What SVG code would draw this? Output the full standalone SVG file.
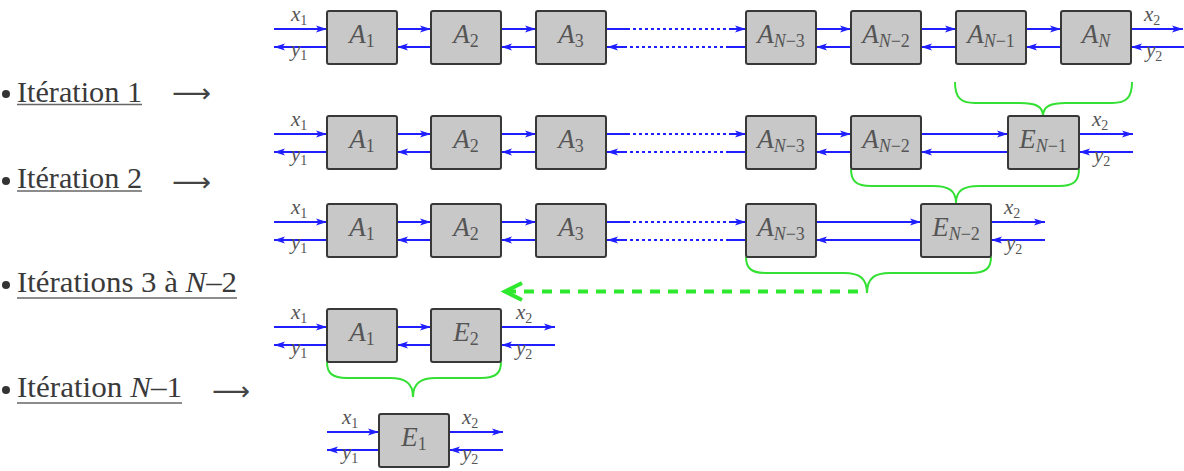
<svg xmlns="http://www.w3.org/2000/svg" width="1184" height="471" viewBox="0 0 1184 471">
<style>
.box{fill:#c8c8c8;stroke:#383838;stroke-width:2}
.bl{font-size:27px;fill:#555;text-anchor:middle}
.lb{font-size:21px;fill:#555}
.w{stroke:#1f1fff;stroke-width:2;fill:none}
.wa{stroke:#1f1fff;stroke-width:2;fill:none;marker-end:url(#ah)}
.dt{stroke:#1f1fff;stroke-width:2;fill:none;stroke-dasharray:3 3}
.br{stroke:#33e033;stroke-width:2;fill:none}
.it{font-size:29px;fill:#3a3a3a}
.ul{stroke:#666;stroke-width:1.5}
.la{font-size:26px;fill:#444}
</style>
<defs>
<marker id="ah" markerUnits="userSpaceOnUse" markerWidth="12" markerHeight="8" refX="11" refY="4" orient="auto">
<path d="M0,0.5 L11,4 L0,7.5 L2.5,4 z" fill="#1f1fff"/>
</marker>
</defs>

<g id="left-text" font-family="Liberation Serif, Times New Roman, DejaVu Serif, serif">
<circle cx="6" cy="94" r="4" fill="#333"/>
<text class="it" x="17" y="102" textLength="125" lengthAdjust="spacingAndGlyphs">Itération 1</text>
<line class="ul" x1="17" y1="104.5" x2="142" y2="104.5"/>
<text class="la" x="172" y="102" textLength="39" lengthAdjust="spacingAndGlyphs" font-family="DejaVu Sans, sans-serif">⟶</text>
<circle cx="6" cy="181" r="4" fill="#333"/>
<text class="it" x="17" y="188" textLength="125" lengthAdjust="spacingAndGlyphs">Itération 2</text>
<line class="ul" x1="17" y1="191" x2="142" y2="191"/>
<text class="la" x="172" y="191" textLength="39" lengthAdjust="spacingAndGlyphs" font-family="DejaVu Sans, sans-serif">⟶</text>
<circle cx="6" cy="285" r="4" fill="#333"/>
<text class="it" x="17" y="292" textLength="220" lengthAdjust="spacingAndGlyphs">Itérations 3 à <tspan font-style="italic">N</tspan>–2</text>
<line class="ul" x1="17" y1="298" x2="237" y2="298"/>
<circle cx="6" cy="390" r="4" fill="#333"/>
<text class="it" x="17" y="397" textLength="165" lengthAdjust="spacingAndGlyphs">Itération <tspan font-style="italic">N</tspan>–1</text>
<line class="ul" x1="17" y1="403" x2="182" y2="403"/>
<text class="la" x="212" y="400" textLength="38" lengthAdjust="spacingAndGlyphs" font-family="DejaVu Sans, sans-serif">⟶</text>
</g>

<g id="connectors">
<line class="wa" x1="274" y1="29" x2="327" y2="29"/><line class="wa" x1="327" y1="47" x2="274" y2="47"/>
<line class="wa" x1="397" y1="29" x2="431" y2="29"/><line class="wa" x1="431" y1="47" x2="397" y2="47"/>
<line class="wa" x1="501" y1="29" x2="536" y2="29"/><line class="wa" x1="536" y1="47" x2="501" y2="47"/>
<line class="w" x1="606" y1="29" x2="627" y2="29"/><line class="dt" x1="627" y1="29" x2="729" y2="29"/><line class="wa" x1="729" y1="29" x2="746" y2="29"/>
<line class="w" x1="746" y1="47" x2="729" y2="47"/><line class="dt" x1="729" y1="47" x2="627" y2="47"/><line class="wa" x1="627" y1="47" x2="607" y2="47"/>
<line class="wa" x1="816" y1="29" x2="851" y2="29"/><line class="wa" x1="851" y1="47" x2="816" y2="47"/>
<line class="wa" x1="921" y1="29" x2="956" y2="29"/><line class="wa" x1="956" y1="47" x2="921" y2="47"/>
<line class="wa" x1="1026" y1="29" x2="1061" y2="29"/><line class="wa" x1="1061" y1="47" x2="1026" y2="47"/>
<line class="wa" x1="1131" y1="29" x2="1183" y2="29"/><line class="wa" x1="1184" y1="47" x2="1131" y2="47"/>
<line class="wa" x1="274" y1="134" x2="327" y2="134"/><line class="wa" x1="327" y1="152" x2="274" y2="152"/>
<line class="wa" x1="397" y1="134" x2="431" y2="134"/><line class="wa" x1="431" y1="152" x2="397" y2="152"/>
<line class="wa" x1="501" y1="134" x2="536" y2="134"/><line class="wa" x1="536" y1="152" x2="501" y2="152"/>
<line class="w" x1="606" y1="134" x2="627" y2="134"/><line class="dt" x1="627" y1="134" x2="729" y2="134"/><line class="wa" x1="729" y1="134" x2="746" y2="134"/>
<line class="w" x1="746" y1="152" x2="729" y2="152"/><line class="dt" x1="729" y1="152" x2="627" y2="152"/><line class="wa" x1="627" y1="152" x2="607" y2="152"/>
<line class="wa" x1="816" y1="134" x2="851" y2="134"/><line class="wa" x1="851" y1="152" x2="816" y2="152"/>
<line class="wa" x1="921" y1="134" x2="1008" y2="134"/><line class="wa" x1="1008" y1="152" x2="921" y2="152"/>
<line class="wa" x1="1079" y1="134" x2="1133" y2="134"/><line class="wa" x1="1133" y1="152" x2="1079" y2="152"/>
<line class="wa" x1="274" y1="222" x2="327" y2="222"/><line class="wa" x1="327" y1="240" x2="274" y2="240"/>
<line class="wa" x1="397" y1="222" x2="431" y2="222"/><line class="wa" x1="431" y1="240" x2="397" y2="240"/>
<line class="wa" x1="501" y1="222" x2="536" y2="222"/><line class="wa" x1="536" y1="240" x2="501" y2="240"/>
<line class="w" x1="606" y1="222" x2="627" y2="222"/><line class="dt" x1="627" y1="222" x2="729" y2="222"/><line class="wa" x1="729" y1="222" x2="746" y2="222"/>
<line class="w" x1="746" y1="240" x2="729" y2="240"/><line class="dt" x1="729" y1="240" x2="627" y2="240"/><line class="wa" x1="627" y1="240" x2="607" y2="240"/>
<line class="wa" x1="816" y1="222" x2="921" y2="222"/><line class="wa" x1="921" y1="240" x2="816" y2="240"/>
<line class="wa" x1="991" y1="222" x2="1045" y2="222"/><line class="wa" x1="1045" y1="240" x2="991" y2="240"/>
<line class="wa" x1="274" y1="327" x2="327" y2="327"/><line class="wa" x1="327" y1="345" x2="274" y2="345"/>
<line class="wa" x1="397" y1="327" x2="431" y2="327"/><line class="wa" x1="431" y1="345" x2="397" y2="345"/>
<line class="wa" x1="501" y1="327" x2="555" y2="327"/><line class="wa" x1="555" y1="345" x2="501" y2="345"/>
<line class="wa" x1="327" y1="432" x2="379" y2="432"/><line class="wa" x1="379" y1="450" x2="327" y2="450"/>
<line class="wa" x1="449" y1="432" x2="503" y2="432"/><line class="wa" x1="503" y1="450" x2="449" y2="450"/>
<path class="br" d="M955,82 C955,97 960,103 975,103 L1020,103 C1035,103 1043,106 1043,116 C1043,106 1051,103 1066,103 L1112,103 C1127,103 1132,97 1132,82"/>
<path class="br" d="M851,169 C851,181 856,186 871,186 L933,186 C948,186 956,190 956,203 C956,190 964,186 979,186 L1059,186 C1074,186 1079,181 1079,169"/>
<path class="br" d="M746,257 C746,268 751,273 766,273 L844,273 C859,273 867,278 867,293 C867,278 875,273 890,273 L971,273 C986,273 991,268 991,257"/>
<path class="br" d="M327,362 C327,373 332,378 347,378 L390,378 C405,378 413,383 413,397 C413,383 421,378 436,378 L481,378 C496,378 501,373 501,362"/>
<line x1="858" y1="291.5" x2="508" y2="291.5" stroke="#2ee82e" stroke-width="4" stroke-dasharray="10 8"/>
<path d="M522,283 L505,291.5 L522,300" stroke="#2ee82e" stroke-width="4" fill="none"/>
</g>

<g id="labels" font-family="Liberation Serif, Times New Roman, DejaVu Serif, serif">
<text class="lb" x="291" y="21"><tspan font-style="italic">x</tspan><tspan font-size="14" dy="4">1</tspan></text>
<text class="lb" x="291" y="56"><tspan font-style="italic">y</tspan><tspan font-size="14" dy="4">1</tspan></text>
<text class="lb" x="1144" y="21"><tspan font-style="italic">x</tspan><tspan font-size="14" dy="4">2</tspan></text>
<text class="lb" x="1146" y="57"><tspan font-style="italic">y</tspan><tspan font-size="14" dy="4">2</tspan></text>
<text class="lb" x="291" y="126"><tspan font-style="italic">x</tspan><tspan font-size="14" dy="4">1</tspan></text>
<text class="lb" x="291" y="161"><tspan font-style="italic">y</tspan><tspan font-size="14" dy="4">1</tspan></text>
<text class="lb" x="1092" y="126"><tspan font-style="italic">x</tspan><tspan font-size="14" dy="4">2</tspan></text>
<text class="lb" x="1094" y="162"><tspan font-style="italic">y</tspan><tspan font-size="14" dy="4">2</tspan></text>
<text class="lb" x="291" y="214"><tspan font-style="italic">x</tspan><tspan font-size="14" dy="4">1</tspan></text>
<text class="lb" x="291" y="249"><tspan font-style="italic">y</tspan><tspan font-size="14" dy="4">1</tspan></text>
<text class="lb" x="1004" y="214"><tspan font-style="italic">x</tspan><tspan font-size="14" dy="4">2</tspan></text>
<text class="lb" x="1006" y="250"><tspan font-style="italic">y</tspan><tspan font-size="14" dy="4">2</tspan></text>
<text class="lb" x="291" y="319"><tspan font-style="italic">x</tspan><tspan font-size="14" dy="4">1</tspan></text>
<text class="lb" x="291" y="354"><tspan font-style="italic">y</tspan><tspan font-size="14" dy="4">1</tspan></text>
<text class="lb" x="516" y="319"><tspan font-style="italic">x</tspan><tspan font-size="14" dy="4">2</tspan></text>
<text class="lb" x="516" y="355"><tspan font-style="italic">y</tspan><tspan font-size="14" dy="4">2</tspan></text>
<text class="lb" x="342" y="424"><tspan font-style="italic">x</tspan><tspan font-size="14" dy="4">1</tspan></text>
<text class="lb" x="342" y="459"><tspan font-style="italic">y</tspan><tspan font-size="14" dy="4">1</tspan></text>
<text class="lb" x="462" y="424"><tspan font-style="italic">x</tspan><tspan font-size="14" dy="4">2</tspan></text>
<text class="lb" x="462" y="460"><tspan font-style="italic">y</tspan><tspan font-size="14" dy="4">2</tspan></text>
</g>

<g id="nodes" font-family="Liberation Serif, Times New Roman, DejaVu Serif, serif">
<g id="r1-A1"><rect class="box" x="327" y="11" width="70" height="53" rx="2"/><text class="bl" x="362" y="43"><tspan font-style="italic">A</tspan><tspan font-size="18" dy="4">1</tspan></text></g>
<g id="r1-A2"><rect class="box" x="431" y="11" width="70" height="53" rx="2"/><text class="bl" x="466" y="43"><tspan font-style="italic">A</tspan><tspan font-size="18" dy="4">2</tspan></text></g>
<g id="r1-A3"><rect class="box" x="536" y="11" width="70" height="53" rx="2"/><text class="bl" x="571" y="43"><tspan font-style="italic">A</tspan><tspan font-size="18" dy="4">3</tspan></text></g>
<g id="r1-AN3"><rect class="box" x="746" y="11" width="70" height="53" rx="2"/><text class="bl" x="781" y="43"><tspan font-style="italic">A</tspan><tspan font-size="18" dy="4"><tspan font-style="italic">N</tspan>−3</tspan></text></g>
<g id="r1-AN2"><rect class="box" x="851" y="11" width="70" height="53" rx="2"/><text class="bl" x="886" y="43"><tspan font-style="italic">A</tspan><tspan font-size="18" dy="4"><tspan font-style="italic">N</tspan>−2</tspan></text></g>
<g id="r1-AN1"><rect class="box" x="956" y="11" width="70" height="53" rx="2"/><text class="bl" x="991" y="43"><tspan font-style="italic">A</tspan><tspan font-size="18" dy="4"><tspan font-style="italic">N</tspan>−1</tspan></text></g>
<g id="r1-AN"><rect class="box" x="1061" y="11" width="70" height="53" rx="2"/><text class="bl" x="1096" y="43"><tspan font-style="italic">A</tspan><tspan font-size="18" dy="4" font-style="italic">N</tspan></text></g>
<g id="r2-A1"><rect class="box" x="327" y="116" width="70" height="53" rx="2"/><text class="bl" x="362" y="148"><tspan font-style="italic">A</tspan><tspan font-size="18" dy="4">1</tspan></text></g>
<g id="r2-A2"><rect class="box" x="431" y="116" width="70" height="53" rx="2"/><text class="bl" x="466" y="148"><tspan font-style="italic">A</tspan><tspan font-size="18" dy="4">2</tspan></text></g>
<g id="r2-A3"><rect class="box" x="536" y="116" width="70" height="53" rx="2"/><text class="bl" x="571" y="148"><tspan font-style="italic">A</tspan><tspan font-size="18" dy="4">3</tspan></text></g>
<g id="r2-AN3"><rect class="box" x="746" y="116" width="70" height="53" rx="2"/><text class="bl" x="781" y="148"><tspan font-style="italic">A</tspan><tspan font-size="18" dy="4"><tspan font-style="italic">N</tspan>−3</tspan></text></g>
<g id="r2-AN2"><rect class="box" x="851" y="116" width="70" height="53" rx="2"/><text class="bl" x="886" y="148"><tspan font-style="italic">A</tspan><tspan font-size="18" dy="4"><tspan font-style="italic">N</tspan>−2</tspan></text></g>
<g id="r2-EN1"><rect class="box" x="1008" y="116" width="71" height="53" rx="2"/><text class="bl" x="1043" y="148"><tspan font-style="italic">E</tspan><tspan font-size="18" dy="4"><tspan font-style="italic">N</tspan>−1</tspan></text></g>
<g id="r3-A1"><rect class="box" x="327" y="204" width="70" height="53" rx="2"/><text class="bl" x="362" y="236"><tspan font-style="italic">A</tspan><tspan font-size="18" dy="4">1</tspan></text></g>
<g id="r3-A2"><rect class="box" x="431" y="204" width="70" height="53" rx="2"/><text class="bl" x="466" y="236"><tspan font-style="italic">A</tspan><tspan font-size="18" dy="4">2</tspan></text></g>
<g id="r3-A3"><rect class="box" x="536" y="204" width="70" height="53" rx="2"/><text class="bl" x="571" y="236"><tspan font-style="italic">A</tspan><tspan font-size="18" dy="4">3</tspan></text></g>
<g id="r3-AN3"><rect class="box" x="746" y="204" width="70" height="53" rx="2"/><text class="bl" x="781" y="236"><tspan font-style="italic">A</tspan><tspan font-size="18" dy="4"><tspan font-style="italic">N</tspan>−3</tspan></text></g>
<g id="r3-EN2"><rect class="box" x="921" y="204" width="70" height="53" rx="2"/><text class="bl" x="956" y="236"><tspan font-style="italic">E</tspan><tspan font-size="18" dy="4"><tspan font-style="italic">N</tspan>−2</tspan></text></g>
<g id="r4-A1"><rect class="box" x="327" y="309" width="70" height="53" rx="2"/><text class="bl" x="362" y="341"><tspan font-style="italic">A</tspan><tspan font-size="18" dy="4">1</tspan></text></g>
<g id="r4-E2"><rect class="box" x="431" y="309" width="70" height="53" rx="2"/><text class="bl" x="466" y="341"><tspan font-style="italic">E</tspan><tspan font-size="18" dy="4">2</tspan></text></g>
<g id="r5-E1"><rect class="box" x="379" y="414" width="70" height="53" rx="2"/><text class="bl" x="414" y="446"><tspan font-style="italic">E</tspan><tspan font-size="18" dy="4">1</tspan></text></g>
</g>
</svg>
